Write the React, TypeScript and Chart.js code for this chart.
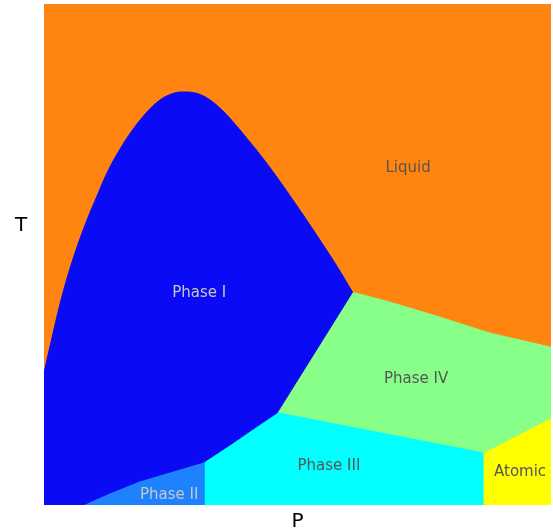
import React, { useEffect, useRef } from "react";
import { Chart, registerables } from "chart.js";

Chart.register(...registerables);

// Axis range (pressure P, temperature T, arbitrary units)
const pRange = [0, 100];
const tRange = [0, 100];

// Region boundaries as [P, T] vertices
const liquidRegion: number[][] = [
  [0, 0], [0, 100], [100, 100], [100, 0],
];

// Smooth melting curve bounding Phase I from above (P increasing)
const phaseIMeltCurve: number[][] = [
  [0, 26.35], [0.79, 29.94], [1.48, 32.93], [2.86, 38.92], [4.44, 44.91],
  [6.31, 50.9], [8.48, 56.89], [10.55, 61.88], [12.52, 66.47], [14.89, 70.86],
  [17.46, 74.85], [20.32, 78.44], [22.88, 80.84], [25.44, 82.14], [27.42, 82.44],
  [30.18, 82.14], [32.74, 80.84], [35.31, 78.64], [37.87, 75.79], [40.24, 72.91],
  [42.6, 69.96], [45.17, 66.51], [47.93, 62.59], [51.08, 57.96], [54.44, 52.87],
  [57.79, 47.64], [60.85, 42.47],
];

// Lower body of Phase I (its top edge stays inside the melting-curve cap)
const phaseIRegion: number[][] = [
  [0, 0], [0, 26.35], [8, 45], [27, 70], [50, 52], [60.85, 42.47],
  [46.0, 18.4], [41.6, 15.4], [37.3, 12.4], [34.3, 10.4], [31.6, 8.6],
  [24.9, 6.6], [18.9, 4.8], [13.0, 2.4], [7.7, 0],
];

const phaseIIRegion: number[][] = [
  [7.7, 0], [13.0, 2.4], [18.9, 4.8], [24.9, 6.6], [31.6, 8.6], [31.6, 0],
];

const phaseIIIRegion: number[][] = [
  [31.6, 0], [31.6, 8.6], [34.3, 10.4], [37.3, 12.4], [41.6, 15.4],
  [46.0, 18.4], [86.6, 10.4], [86.6, 0],
];

const phaseIVRegion: number[][] = [
  [60.85, 42.47], [68.2, 40.5], [78.1, 37.5], [88.0, 34.3], [100, 31.5],
  [100, 17.4], [86.6, 10.4], [46.0, 18.4],
];

const atomicRegion: number[][] = [
  [86.6, 0], [86.6, 10.4], [100, 17.4], [100, 0],
];

// Region labels (centre of capitals)
const labelTexts = ["Liquid", "Phase I", "Phase II", "Phase III", "Phase IV", "Atomic"];
const labelP = [71.8, 30.6, 24.7, 56.2, 73.4, 93.9];
const labelT = [67.5, 42.7, 2.2, 8.0, 25.5, 6.8];
const labelColors = ["#555555", "#c8c8c8", "#c8c8c8", "#555555", "#555555", "#555555"];

const xTitle = "P";
const yTitle = "T";

const toPoints = (arr: number[][]) => arr.map(([x, y]) => ({ x, y }));

export default function App() {
  const canvasRef = useRef<HTMLCanvasElement | null>(null);

  useEffect(() => {
    if (!canvasRef.current) return;

    const region = (data: number[][], color: string, order = 0, smooth = false) => ({
      data: toPoints(data),
      showLine: true,
      fill: "shape",
      backgroundColor: color,
      borderColor: color,
      borderWidth: 1,
      pointRadius: 0,
      pointHoverRadius: 0,
      tension: smooth ? 0.4 : 0.0001,
      order,
    });

    const labelsPlugin = {
      id: "regionLabels",
      afterDatasetsDraw(chart: any) {
        const { ctx, scales, chartArea } = chart;
        ctx.save();
        ctx.textAlign = "center";
        ctx.textBaseline = "alphabetic";
        const fs = 15;
        ctx.font = `${fs}px 'DejaVu Sans'`;
        labelTexts.forEach((t, i) => {
          ctx.fillStyle = labelColors[i];
          ctx.fillText(
            t,
            scales.x.getPixelForValue(labelP[i]),
            scales.y.getPixelForValue(labelT[i]) + fs * 0.365
          );
        });
        ctx.fillStyle = "#000000";
        ctx.textBaseline = "middle";
        ctx.font = "20px 'DejaVu Sans'";
        ctx.fillText(yTitle, chartArea.left - 23, chartArea.top + 222);
        ctx.fillText(xTitle, (chartArea.left + chartArea.right) / 2, chartArea.bottom + 17);
        ctx.restore();
      },
    };

    const chart = new Chart(canvasRef.current, {
      type: "scatter",
      data: {
        datasets: [
          region(phaseIMeltCurve, "#0a0af5", 1, true),
          region(phaseIRegion, "#0a0af5", 1),
          region(phaseIIRegion, "#1e82ff", 1),
          region(phaseIIIRegion, "#00ffff", 1),
          region(phaseIVRegion, "#88ff88", 1),
          region(atomicRegion, "#ffff00", 1),
          region(liquidRegion, "#ff8510", 10),
        ] as any,
      },
      options: {
        animation: false,
        responsive: false,
        events: [],
        layout: { padding: { left: 44, top: 4, right: 2, bottom: 23 } },
        scales: {
          x: { type: "linear", min: pRange[0], max: pRange[1], display: false },
          y: { type: "linear", min: tRange[0], max: tRange[1], display: false },
        },
        plugins: {
          legend: { display: false },
          tooltip: { enabled: false },
        },
      },
      plugins: [labelsPlugin],
    });

    return () => chart.destroy();
  }, []);

  return (
    <div style={{ position: "absolute", left: 0, top: 0, width: 553, height: 528, background: "#fff" }}>
      <canvas ref={canvasRef} width={553} height={528} style={{ display: "block" }} />
    </div>
  );
}
